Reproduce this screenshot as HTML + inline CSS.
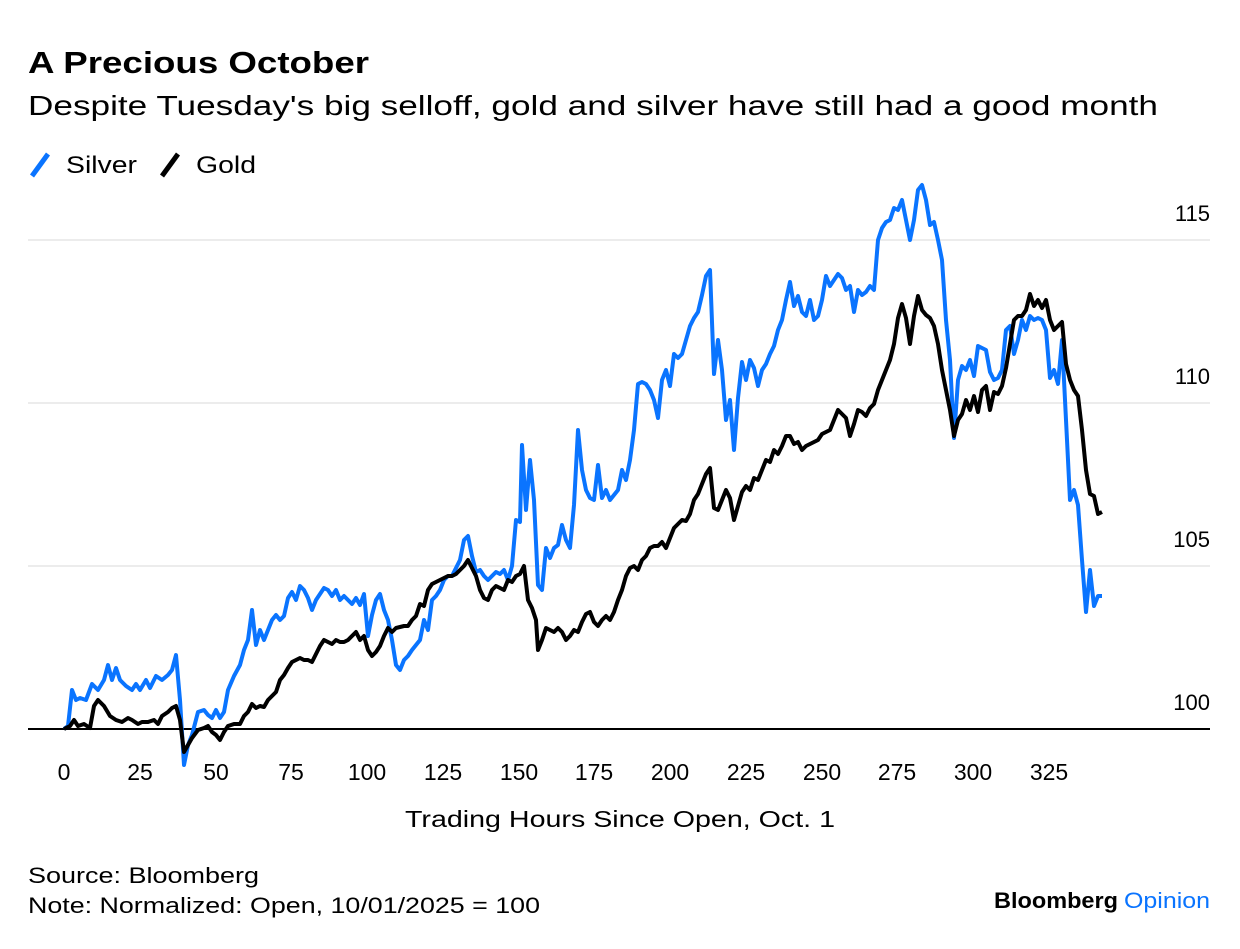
<!DOCTYPE html>
<html><head><meta charset="utf-8"><style>
body{margin:0;background:#fff;font-family:"Liberation Sans",sans-serif;}
</style></head><body>
<svg width="1240" height="944" xmlns="http://www.w3.org/2000/svg" font-family="Liberation Sans, sans-serif">
<rect width="1240" height="944" fill="#fff"/>
<text x="28" y="73" font-size="31" font-weight="bold" fill="#000" textLength="341" lengthAdjust="spacingAndGlyphs">A Precious October</text>
<text x="28" y="115" font-size="28" fill="#000" textLength="1130" lengthAdjust="spacingAndGlyphs">Despite Tuesday's big selloff, gold and silver have still had a good month</text>
<line x1="32" y1="176" x2="48" y2="154" stroke="#0a74ff" stroke-width="5"/>
<text x="66" y="173" font-size="24" textLength="71" lengthAdjust="spacingAndGlyphs">Silver</text>
<line x1="162" y1="176" x2="178" y2="154" stroke="#000" stroke-width="5"/>
<text x="196" y="173" font-size="24" textLength="60" lengthAdjust="spacingAndGlyphs">Gold</text>
<g stroke="#ececec" stroke-width="2">
<line x1="28" y1="240" x2="1210" y2="240"/><line x1="28" y1="403" x2="1210" y2="403"/><line x1="28" y1="566" x2="1210" y2="566"/>
</g>
<g font-size="22" text-anchor="end">
<text x="1210" y="221">115</text><text x="1210" y="384">110</text><text x="1210" y="547">105</text><text x="1210" y="710">100</text>
</g>
<line x1="28" y1="729" x2="1210" y2="729" stroke="#000" stroke-width="2"/>
<g font-size="23" text-anchor="middle">
<text x="64" y="780">0</text><text x="140" y="780">25</text><text x="216" y="780">50</text><text x="291" y="780">75</text><text x="367" y="780">100</text><text x="443" y="780">125</text><text x="519" y="780">150</text><text x="594" y="780">175</text><text x="670" y="780">200</text><text x="746" y="780">225</text><text x="822" y="780">250</text><text x="897" y="780">275</text><text x="973" y="780">300</text><text x="1049" y="780">325</text>
<text x="620" y="827" textLength="430" lengthAdjust="spacingAndGlyphs">Trading Hours Since Open, Oct. 1</text>
</g>
<polyline fill="none" stroke="#0a74ff" stroke-width="4" stroke-linejoin="round" points="64,729 68,726 72,690 76,700 80,698 86,700 92,684 98,690 104,680 108,665 112,680 116,668 120,680 126,686 132,690 136,684 140,690 146,680 150,688 156,676 162,680 168,675 172,670 176,655 180,700 184,765 188,745 192,735 198,712 204,710 208,715 212,718 216,710 220,718 224,712 228,690 234,676 240,665 244,650 248,640 252,610 256,645 260,630 264,640 268,630 272,620 276,615 280,620 284,616 288,598 292,592 296,600 300,586 304,590 308,598 312,610 316,600 320,594 324,588 328,590 332,596 336,590 340,600 344,596 348,600 352,604 356,598 360,605 364,594 368,636 372,615 376,600 380,594 384,610 388,620 392,640 396,665 400,670 404,660 408,656 412,650 416,645 420,640 424,620 428,630 432,600 436,596 440,590 444,580 448,576 452,576 456,568 460,560 464,540 468,536 472,556 476,572 480,570 484,576 488,580 492,576 496,572 500,574 504,570 508,580 512,566 516,520 520,522 522,445 526,510 530,460 534,500 538,585 542,590 546,548 550,558 554,548 558,545 562,525 566,540 570,548 574,505 578,430 582,470 586,490 590,498 594,500 598,465 602,498 606,490 610,500 614,495 618,490 622,470 626,480 630,460 634,430 638,384 642,382 646,384 650,390 654,400 658,418 662,380 666,370 670,386 674,354 678,358 682,354 686,340 690,326 694,318 698,312 702,295 706,276 710,270 714,374 718,340 722,370 726,420 730,400 734,450 738,398 742,362 746,380 750,360 754,368 758,386 762,370 766,364 770,354 774,346 778,330 782,320 786,300 790,282 794,306 798,296 802,312 806,316 810,300 814,320 818,316 822,300 826,276 830,286 834,280 838,274 842,278 846,290 850,286 854,312 858,290 862,295 866,292 870,286 874,290 878,240 882,228 886,222 890,220 894,208 898,210 902,200 906,220 910,240 914,220 918,190 922,185 926,200 930,225 934,222 938,240 942,260 946,320 950,360 954,438 958,380 962,366 966,370 970,360 974,376 978,346 982,348 986,350 990,372 994,380 998,378 1002,370 1006,330 1010,326 1014,354 1018,340 1022,320 1026,330 1030,316 1034,320 1038,318 1042,320 1046,330 1050,378 1054,370 1058,384 1062,340 1066,420 1070,500 1074,490 1078,505 1082,560 1086,612 1090,570 1094,606 1098,596 1102,596"/>
<polyline fill="none" stroke="#000" stroke-width="4" stroke-linejoin="round" points="64,729 70,726 74,720 78,726 84,724 90,728 94,706 98,700 104,706 110,716 116,720 122,722 128,718 132,720 138,724 142,722 148,722 154,720 158,724 162,716 168,712 172,708 176,706 180,720 184,752 188,745 192,738 198,730 204,728 208,726 212,732 216,735 220,740 224,732 228,726 234,724 240,724 244,716 248,712 252,704 256,708 260,706 264,707 268,700 272,696 276,692 280,680 284,675 288,668 292,662 296,660 300,658 304,660 308,660 312,662 316,654 320,646 324,640 328,642 332,644 336,640 340,642 344,642 348,640 352,636 356,632 360,640 364,636 368,650 372,656 376,652 380,646 384,636 388,628 392,632 396,628 400,627 404,626 408,626 412,620 416,616 420,604 424,606 428,590 432,584 436,582 440,580 444,578 448,576 452,576 456,574 460,570 464,566 468,560 472,568 476,576 480,590 484,598 488,600 492,590 496,586 500,588 504,590 508,580 512,582 516,576 520,574 524,566 528,600 532,608 536,620 538,650 542,640 546,628 550,630 554,632 558,628 562,632 566,640 570,636 574,630 578,632 582,622 586,614 590,612 594,622 598,626 602,620 606,616 610,620 614,612 618,600 622,590 626,576 630,568 634,566 638,570 642,560 646,556 650,548 654,546 658,546 662,542 666,548 670,538 674,528 678,524 682,520 686,521 690,514 694,500 698,494 702,484 706,474 710,468 714,508 718,510 722,500 726,490 730,498 734,520 738,506 742,492 746,486 750,490 754,478 758,480 762,470 766,460 770,462 774,450 778,454 782,446 786,436 790,436 794,444 798,442 802,450 806,446 810,444 814,442 818,440 822,434 826,432 830,430 834,420 838,410 842,414 846,418 850,436 854,424 858,410 862,412 866,416 870,408 874,404 878,390 882,380 886,370 890,360 894,344 898,318 902,304 906,318 910,344 914,316 918,296 922,310 926,315 930,318 934,326 938,344 942,370 946,390 950,410 954,436 958,420 962,414 966,400 970,410 974,396 978,412 982,390 986,386 990,410 994,392 998,394 1002,386 1006,368 1010,344 1014,320 1018,316 1022,316 1026,310 1030,294 1034,306 1038,300 1042,308 1046,300 1050,320 1054,330 1058,326 1062,322 1066,364 1070,380 1074,390 1078,396 1082,430 1086,470 1090,494 1094,496 1098,514 1102,512"/>
<text x="28" y="883" font-size="22" textLength="231" lengthAdjust="spacingAndGlyphs">Source: Bloomberg</text>
<text x="28" y="913" font-size="22" textLength="512" lengthAdjust="spacingAndGlyphs">Note: Normalized: Open, 10/01/2025 = 100</text>
<text x="994" y="908" font-size="22" font-weight="bold" textLength="124" lengthAdjust="spacingAndGlyphs">Bloomberg</text>
<text x="1124" y="908" font-size="22" fill="#0a74ff" textLength="86" lengthAdjust="spacingAndGlyphs">Opinion</text>
</svg>
</body></html>
